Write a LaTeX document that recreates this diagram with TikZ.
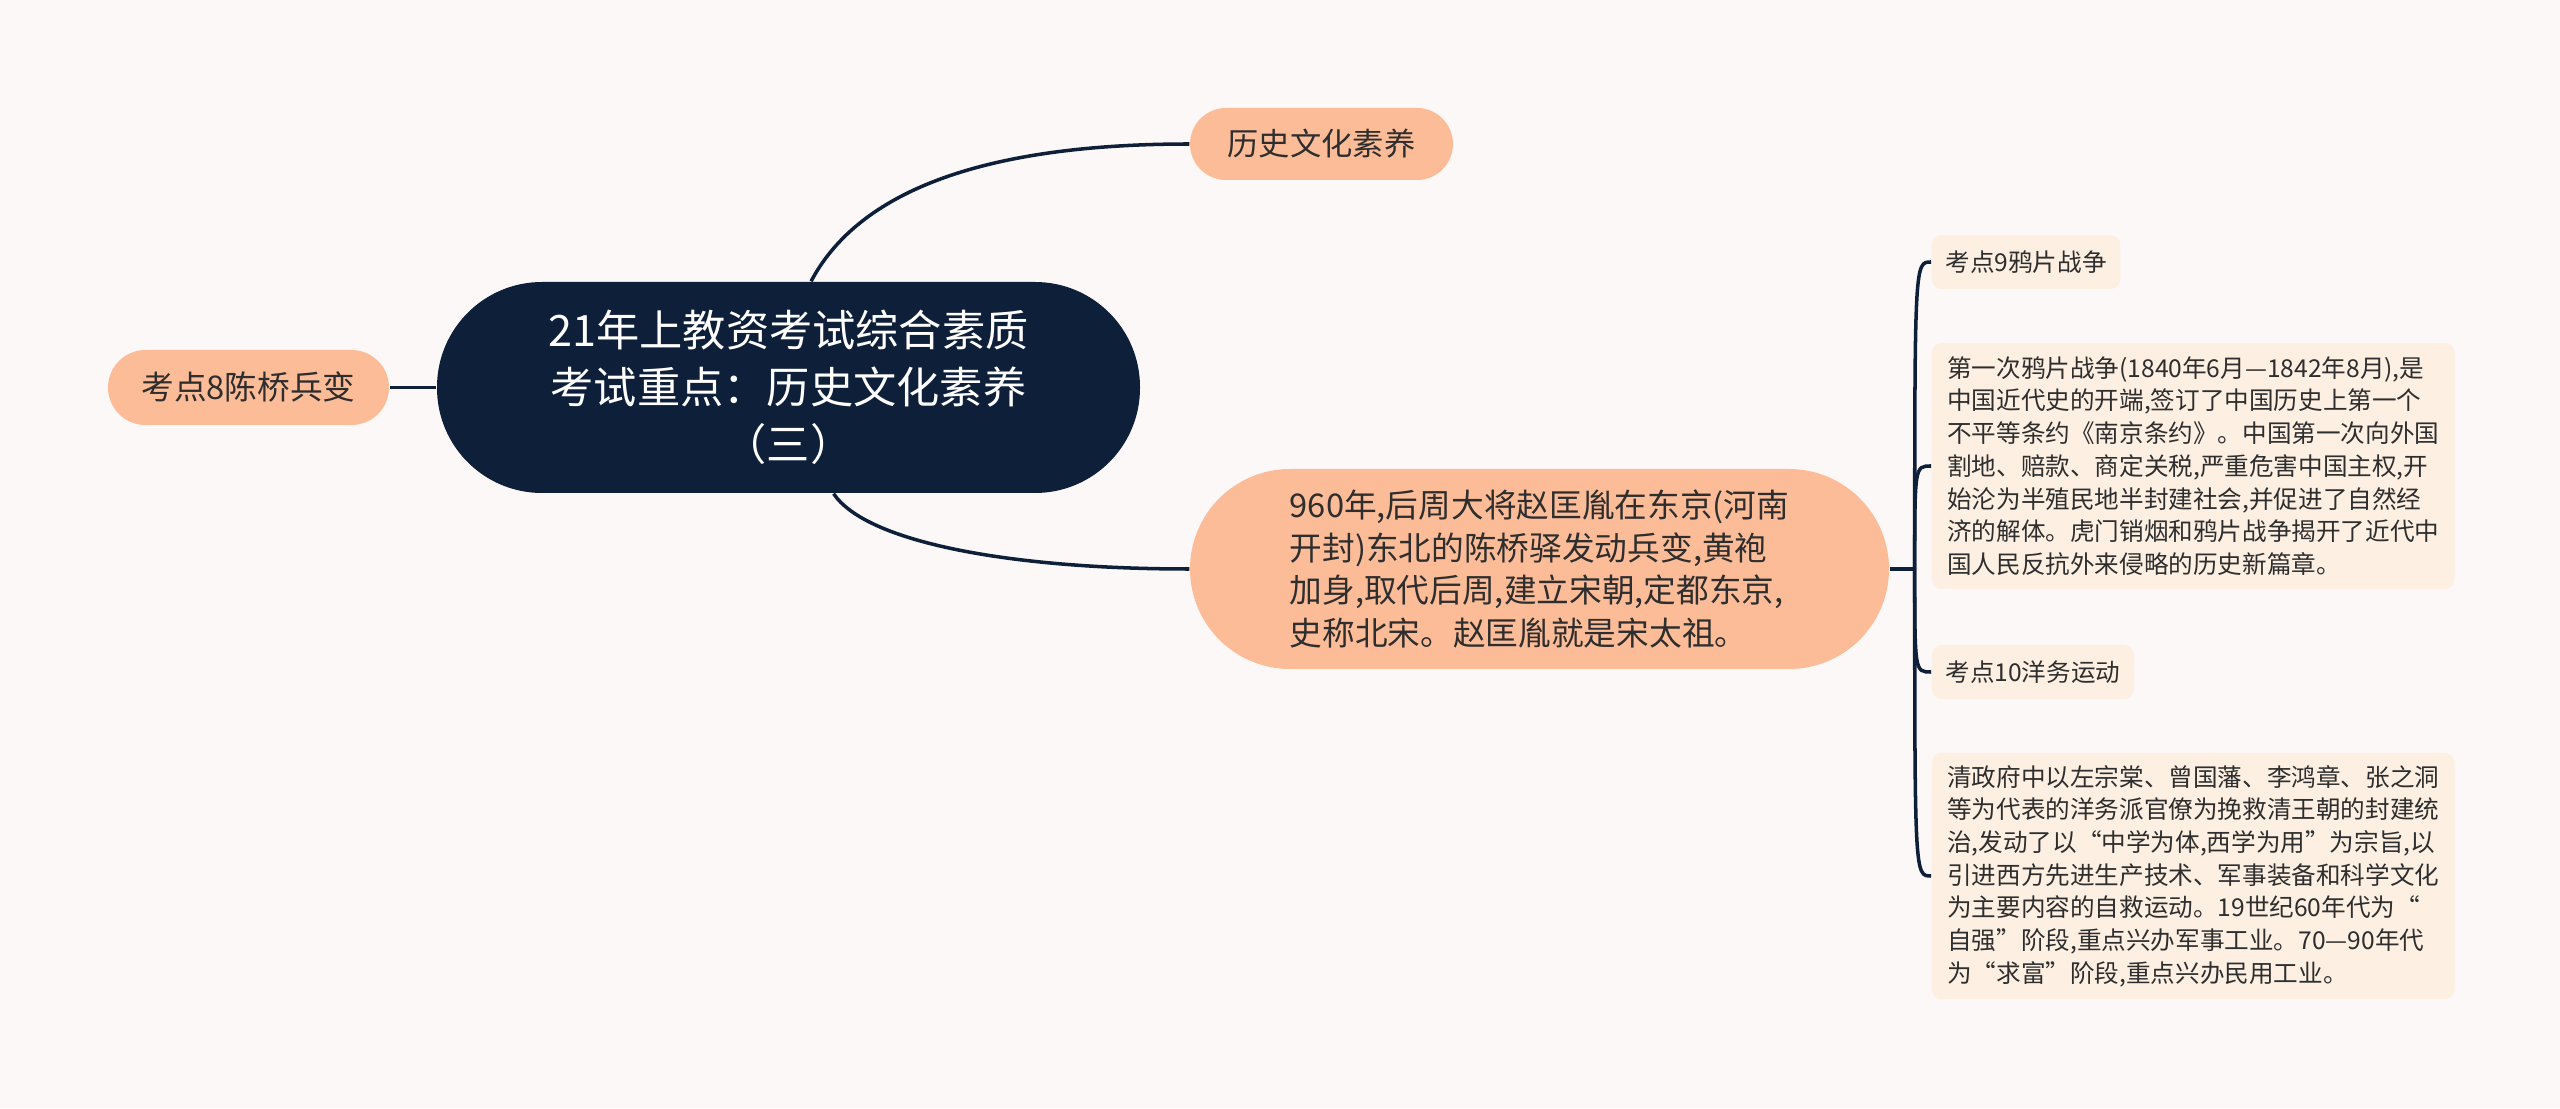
\documentclass[tikz,border=0pt]{standalone}
\usepackage{fontspec}
\setmainfont{Noto Sans CJK SC}
\usetikzlibrary{calc}
\definecolor{navy}{HTML}{0E1F3A}
\definecolor{peach}{HTML}{FDBC98}
\definecolor{cream}{HTML}{FDF0E3}
\definecolor{paper}{HTML}{FCF8F7}
\definecolor{ink}{HTML}{2E2E2E}
\begin{document}
\begin{tikzpicture}[
  link/.style={draw=navy, line width=1pt},
  rootbox/.style={fill=navy, text=white, rounded corners=1.05cm, minimum width=7.03cm, minimum height=2.11cm, align=center, font=\fontsize{12.3}{16.2}\selectfont},
  pill/.style={fill=peach, text=ink, align=left},
  leafbox/.style={fill=cream, text=ink, rounded corners=0.1cm, anchor=west, align=left, inner xsep=3.9pt, font=\fontsize{7}{9.3}\selectfont}
]
\fill[paper] (0,0) rectangle (25.6,11.08);
\useasboundingbox (0,0) rectangle (25.6,11.08);

\node[rootbox] (root) at (7.885,7.205) {21年上教资考试综合素质\\考试重点：历史文化素养\\（三）};
\node[pill, rounded corners=0.375cm, minimum width=2.81cm, minimum height=0.75cm, font=\fontsize{9.3}{11}\selectfont] (chenqiao) at (2.485,7.205) {考点8陈桥兵变};
\node[pill, rounded corners=0.36cm, minimum width=2.63cm, minimum height=0.72cm, font=\fontsize{8.9}{11}\selectfont] (culture) at (13.215,9.64) {历史文化素养};
\node[pill, rounded corners=1cm, minimum width=6.99cm, minimum height=2cm, font=\fontsize{9.3}{12.1}\selectfont] (song) at (15.395,5.39) {960年,后周大将赵匡胤在东京(河南\\开封)东北的陈桥驿发动兵变,黄袍\\加身,取代后周,建立宋朝,定都东京,\\史称北宋。赵匡胤就是宋太祖。};

% right branch
\node[leafbox, minimum height=0.54cm] (k9) at (19.31,8.46) {考点9鸦片战争};
\node[leafbox, minimum width=5.23cm, minimum height=2.46cm] (opium) at (19.31,6.42) {第一次鸦片战争(1840年6月—1842年8月),是\\中国近代史的开端,签订了中国历史上第一个\\不平等条约《南京条约》。中国第一次向外国\\割地、赔款、商定关税,严重危害中国主权,开\\始沦为半殖民地半封建社会,并促进了自然经\\济的解体。虎门销烟和鸦片战争揭开了近代中\\国人民反抗外来侵略的历史新篇章。};
\node[leafbox, minimum height=0.54cm] (k10) at (19.31,4.36) {考点10洋务运动};
\node[leafbox, minimum width=5.23cm, minimum height=2.46cm] (yangwu) at (19.31,2.32) {清政府中以左宗棠、曾国藩、李鸿章、张之洞\\等为代表的洋务派官僚为挽救清王朝的封建统\\治,发动了以“中学为体,西学为用”为宗旨,以\\引进西方先进生产技术、军事装备和科学文化\\为主要内容的自救运动。19世纪60年代为“\\自强”阶段,重点兴办军事工业。70—90年代\\为“求富”阶段,重点兴办民用工业。};

\draw[link] (root.west) -- (chenqiao.east);
\draw[link] (root.78) .. controls +(0.54,1.02) and +(-1.78,0) .. (culture.west);
\draw[link] (root.-67) .. controls +(0.33,-0.49) and +(-1.78,0) .. (song.west);

\coordinate (hub) at ($(song.east)+(0.25,0)$);
\draw[link] (song.east) -- (hub);
\foreach \leaf in {k9,opium,k10,yangwu}
  \draw[link] (hub) .. controls (hub |- \leaf.west) .. (\leaf.west);
\end{tikzpicture}
\end{document}
